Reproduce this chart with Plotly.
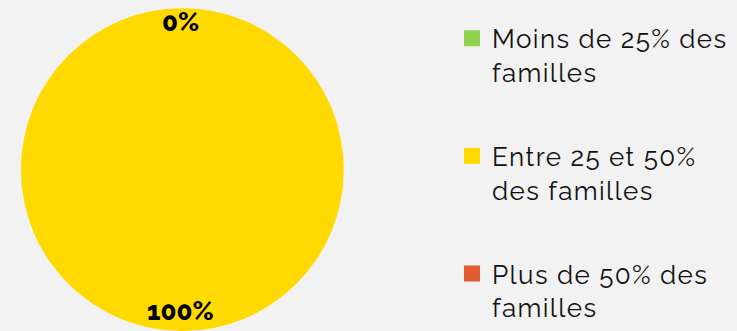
import plotly.graph_objects as go

categories = ["Moins de 25% des<br>familles", "Entre 25 et 50%<br>des familles", "Plus de 50% des<br>familles"]
values = [0, 100, 0]
colors = ["#92D050", "#FFDA00", "#E35B2E"]

total = sum(values)
percents = [round(v / total * 100) for v in values]

fig = go.Figure()
fig.add_trace(go.Pie(
    labels=categories,
    values=values,
    marker=dict(colors=colors, line=dict(width=0)),
    textinfo="none",
    hoverinfo="label+percent",
    sort=False,
    direction="clockwise",
    rotation=0,
    domain=dict(x=[0.0281, 0.4668], y=[0.0, 0.975]),
    showlegend=False,
))

# legend entries (one group per category so the gap between them can be set)
for i, (cat, col) in enumerate(zip(categories, colors)):
    fig.add_trace(go.Scatter(
        x=[None], y=[None], mode="markers", name=cat,
        marker=dict(symbol="square", size=16, color=col),
        legendgroup=f"g{i}", showlegend=True, hoverinfo="skip",
    ))

label_font = dict(family="Raleway, Lato, sans-serif", size=26, color="#000000", weight=800)
# zero-share labels at the top of the pie, full share at the bottom
fig.add_annotation(x=0.2449, y=0.9335, xref="paper", yref="paper",
                   xanchor="center", yanchor="middle",
                   text=f"{percents[0]}%", showarrow=False, font=label_font)
fig.add_annotation(x=0.2452, y=0.059, xref="paper", yref="paper",
                   xanchor="center", yanchor="middle",
                   text=f"{percents[1]}%", showarrow=False, font=label_font)

fig.update_layout(
    width=737, height=331,
    margin=dict(l=0, r=0, t=0, b=0),
    paper_bgcolor="#F2F2F2",
    plot_bgcolor="#F2F2F2",
    xaxis=dict(visible=False),
    yaxis=dict(visible=False),
    legend=dict(
        x=0.6133, y=0.955, xanchor="left", yanchor="top",
        font=dict(family="Raleway, Lato, sans-serif", size=26, color="#111111"),
        valign="top",
        bgcolor="rgba(0,0,0,0)",
        traceorder="grouped",
        tracegroupgap=47,
    ),
)

post = """
document.body.style.margin = '0';
var s = document.createElement('style');
s.innerHTML = '.legendtext{letter-spacing:1.4px}';
document.head.appendChild(s);
var gd = document.getElementById('{plot_id}');
gd.querySelectorAll('.legend .scrollbox').forEach(function(e){ e.removeAttribute('clip-path'); e.style.clipPath = 'none'; });
"""
fig.write_html("out.html", post_script=post, config={"displayModeBar": False})
